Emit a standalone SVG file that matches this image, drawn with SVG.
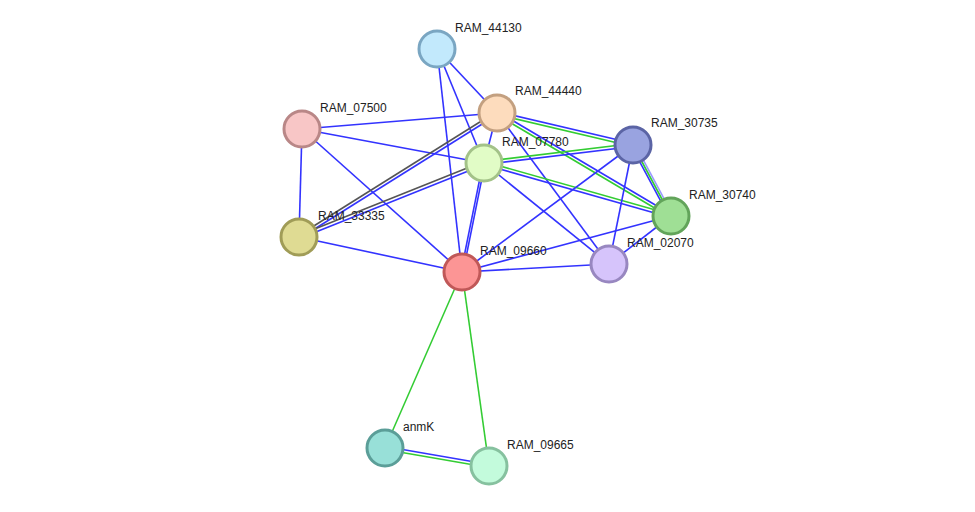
<svg xmlns="http://www.w3.org/2000/svg" width="975" height="512" viewBox="0 0 975 512">
<style>
.b{stroke:#3333ff;stroke-width:1.6;fill:none}
.g{stroke:#33cc33;stroke-width:1.6;fill:none}
.k{stroke:#555555;stroke-width:1.6;fill:none}
.l{stroke:#9999ff;stroke-width:1.6;fill:none}
circle{stroke-width:3}
text{font-family:"Liberation Sans",Arial,sans-serif;font-size:12px;fill:#222}
</style>
<rect width="975" height="512" fill="#fff"/>
<g id="edges">
<line class="b" x1="437" y1="49" x2="497" y2="113"/>
<line class="b" x1="437" y1="49" x2="462" y2="272"/>
<line class="b" x1="437" y1="49" x2="484" y2="163"/>
<line class="b" x1="302" y1="129" x2="497" y2="113"/>
<line class="b" x1="302" y1="129" x2="484" y2="163"/>
<line class="b" x1="302" y1="129" x2="299" y2="237"/>
<line class="b" x1="302" y1="129" x2="462" y2="272"/>
<g transform="translate(0.8,1.3)"><line class="b" x1="497" y1="113" x2="299" y2="237"/></g>
<g transform="translate(-0.8,-1.3)"><line class="k" x1="497" y1="113" x2="299" y2="237"/></g>
<g transform="translate(0.55,1.4)"><line class="b" x1="484" y1="163" x2="299" y2="237"/></g>
<g transform="translate(-0.55,-1.4)"><line class="k" x1="484" y1="163" x2="299" y2="237"/></g>
<line class="b" x1="497" y1="113" x2="484" y2="163"/>
<g transform="translate(0.35,-1.45)"><line class="b" x1="497" y1="113" x2="633" y2="145"/></g>
<g transform="translate(-0.35,1.45)"><line class="g" x1="497" y1="113" x2="633" y2="145"/></g>
<g transform="translate(0.77,-1.3)"><line class="b" x1="497" y1="113" x2="671" y2="216"/></g>
<g transform="translate(-0.77,1.3)"><line class="g" x1="497" y1="113" x2="671" y2="216"/></g>
<line class="b" x1="497" y1="113" x2="609" y2="264"/>
<g transform="translate(-0.18,-1.5)"><line class="g" x1="484" y1="163" x2="633" y2="145"/></g>
<g transform="translate(0.18,1.5)"><line class="b" x1="484" y1="163" x2="633" y2="145"/></g>
<g transform="translate(0.4,-1.44)"><line class="g" x1="484" y1="163" x2="671" y2="216"/></g>
<g transform="translate(-0.4,1.44)"><line class="b" x1="484" y1="163" x2="671" y2="216"/></g>
<g transform="translate(1,0.2)"><line class="b" x1="484" y1="163" x2="462" y2="272"/></g>
<g transform="translate(-1,-0.2)"><line class="b" x1="484" y1="163" x2="462" y2="272"/></g>
<line class="b" x1="484" y1="163" x2="609" y2="264"/>
<g transform="translate(-1.8,0.95)"><line class="b" x1="633" y1="145" x2="671" y2="216"/></g>
<line class="g" x1="633" y1="145" x2="671" y2="216"/>
<g transform="translate(1.8,-0.95)"><line class="l" x1="633" y1="145" x2="671" y2="216"/></g>
<line class="b" x1="633" y1="145" x2="462" y2="272"/>
<line class="b" x1="633" y1="145" x2="609" y2="264"/>
<line class="b" x1="671" y1="216" x2="462" y2="272"/>
<line class="b" x1="671" y1="216" x2="609" y2="264"/>
<line class="b" x1="299" y1="237" x2="462" y2="272"/>
<line class="b" x1="462" y1="272" x2="609" y2="264"/>
<line class="g" x1="462" y1="272" x2="385" y2="448"/>
<line class="g" x1="462" y1="272" x2="489" y2="466"/>
<g transform="translate(0.25,-1.5)"><line class="b" x1="385" y1="448" x2="489" y2="466"/></g>
<g transform="translate(-0.25,1.5)"><line class="g" x1="385" y1="448" x2="489" y2="466"/></g>
</g>
<g id="RAM_44130"><circle cx="437" cy="49" r="18" fill="#c2e9fc" stroke="#7aa6c2"/><text x="455" y="32">RAM_44130</text></g>
<g id="RAM_44440"><circle cx="497" cy="113" r="18" fill="#fddcbd" stroke="#c3a080"/><text x="515" y="95">RAM_44440</text></g>
<g id="RAM_07500"><circle cx="302" cy="129" r="18" fill="#f8c6c6" stroke="#b98787"/><text x="320" y="112">RAM_07500</text></g>
<g id="RAM_07780"><circle cx="484" cy="163" r="18" fill="#e1fcc6" stroke="#a3c288"/><text x="502" y="146">RAM_07780</text></g>
<g id="RAM_30735"><circle cx="633" cy="145" r="18" fill="#99a3e0" stroke="#5b64a5"/><text x="651" y="127">RAM_30735</text></g>
<g id="RAM_30740"><circle cx="671" cy="216" r="18" fill="#9fdf95" stroke="#62a45a"/><text x="689" y="199">RAM_30740</text></g>
<g id="RAM_33335"><circle cx="299" cy="237" r="18" fill="#dfdb93" stroke="#a09c57"/><text x="318" y="220">RAM_33335</text></g>
<g id="RAM_09660"><circle cx="462" cy="272" r="18" fill="#fc9595" stroke="#c05858"/><text x="480" y="255">RAM_09660</text></g>
<g id="RAM_02070"><circle cx="609" cy="264" r="18" fill="#d6c4fb" stroke="#9887c0"/><text x="627" y="247">RAM_02070</text></g>
<g id="anmK"><circle cx="385" cy="448" r="18" fill="#98e0d8" stroke="#5b9e98"/><text x="403" y="431">anmK</text></g>
<g id="RAM_09665"><circle cx="489" cy="466" r="18" fill="#c3fbdc" stroke="#86c19f"/><text x="507" y="449">RAM_09665</text></g>
</svg>
